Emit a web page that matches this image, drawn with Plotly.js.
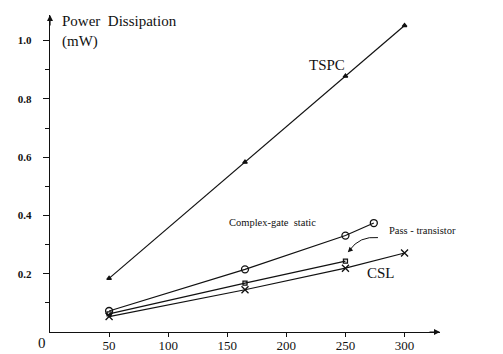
<!DOCTYPE html>
<html>
<head>
<meta charset="utf-8">
<script src="https://cdn.plot.ly/plotly-3.0.1.min.js"></script>
<style>html,body{margin:0;padding:0;background:#fff;}#chart{width:503px;height:354px;}</style>
</head>
<body>
<div id="chart"></div>
<script>
// Data
var freqTSPC = [50, 165, 250, 300];
var powerTSPC = [0.184, 0.583, 0.878, 1.052];
var freqComplex = [50, 165, 250, 274];
var powerComplex = [0.072, 0.215, 0.331, 0.374];
var freqPass = [50, 165, 250];
var powerPass = [0.062, 0.168, 0.243];
var freqCSL = [50, 165, 250, 300];
var powerCSL = [0.053, 0.145, 0.219, 0.271];
var xTickVals = [50, 100, 150, 200, 250, 300];
var yTickVals = [0.2, 0.4, 0.6, 0.8, 1.0];

var serif = 'Liberation Serif, Times New Roman, serif';
function line(x, y, sym, size, name) {
  return {
    x: x, y: y, mode: 'lines+markers', type: 'scatter', name: name,
    cliponaxis: false,
    line: {color: '#111', width: 1.2},
    marker: {symbol: sym, size: size, color: '#111', line: {color: '#111', width: 1.3}}
  };
}
var data = [
  line(freqTSPC, powerTSPC, 'triangle-up', 4, 'TSPC'),
  line(freqComplex, powerComplex, 'circle-open', 7, 'Complex-gate static'),
  line(freqPass, powerPass, 'square-open', 4, 'Pass - transistor'),
  line(freqCSL, powerCSL, 'x-thin-open', 7, 'CSL')
];

var layout = {
  width: 503, height: 354,
  margin: {l: 50, r: 63, t: 15, b: 22, pad: 0},
  paper_bgcolor: '#fff', plot_bgcolor: '#fff',
  showlegend: false,
  font: {family: serif, color: '#111'},
  xaxis: {
    range: [0, 330], showgrid: false, zeroline: false,
    showline: true, linecolor: '#111', linewidth: 1.3,
    ticks: 'outside', ticklen: 4, tickcolor: '#111', tickwidth: 1,
    tickvals: xTickVals, ticktext: xTickVals.map(String),
    tickfont: {family: serif, size: 13, color: '#111'},
    ticklabelstandoff: -3
  },
  yaxis: {
    range: [0, 1.088], showgrid: false, zeroline: false,
    showline: true, linecolor: '#111', linewidth: 1.3,
    ticks: 'outside', ticklen: 6, tickcolor: '#111', tickwidth: 1,
    tickvals: yTickVals, ticktext: yTickVals.map(function(v){return v.toFixed(1);}),
    tickfont: {family: serif, size: 11, color: '#111', weight: 'bold'},
    ticklabelstandoff: 9,
    minor: {tickvals: [0.1, 0.3, 0.5, 0.7, 0.9], ticks: 'outside', ticklen: 4, tickcolor: '#111', tickwidth: 1}
  },
  shapes: [
    {type: 'path', xref: 'x', yref: 'y',
     path: 'M 277.5 0.324 Q 262 0.33 253.5 0.281',
     line: {color: '#111', width: 1}}
  ],
  annotations: [
    {x: 330, y: 0, xref: 'x', yref: 'y', ax: -12, ay: 0, text: '', showarrow: true,
     arrowhead: 2, arrowsize: 1, arrowwidth: 1.2, arrowcolor: '#111', standoff: 0},
    {x: 0, y: 1.088, xref: 'x', yref: 'y', ax: 0, ay: 12, text: '', showarrow: true,
     arrowhead: 2, arrowsize: 1, arrowwidth: 1.2, arrowcolor: '#111', standoff: 0},
    {x: 252, y: 0.274, xref: 'x', yref: 'y', ax: 5, ay: -5, text: '', showarrow: true,
     arrowhead: 2, arrowsize: 1, arrowwidth: 1, arrowcolor: '#111', standoff: 0},
    {x: 8.5, y: 1.069, xref: 'x', yref: 'y', xanchor: 'left', yanchor: 'middle', showarrow: false,
     text: 'Power  Dissipation', font: {family: serif, size: 15, color: '#111'}},
    {x: 8.5, y: 0.997, xref: 'x', yref: 'y', xanchor: 'left', yanchor: 'middle', showarrow: false,
     text: '(mW)', font: {family: serif, size: 15, color: '#111'}},
    {x: 336, y: 0.008, xref: 'x', yref: 'y', xanchor: 'left', yanchor: 'middle', showarrow: false,
     text: 'f(MHz)', font: {family: serif, size: 16, color: '#111'}},
    {x: -0.02, y: -0.035, xref: 'paper', yref: 'paper', xanchor: 'center', yanchor: 'middle', showarrow: false,
     text: '0', font: {family: serif, size: 15, color: '#111'}},
    {x: 234.4, y: 0.918, xref: 'x', yref: 'y', xanchor: 'center', yanchor: 'middle', showarrow: false,
     text: 'TSPC', font: {family: serif, size: 15, color: '#111'}},
    {x: 188.3, y: 0.376, xref: 'x', yref: 'y', xanchor: 'center', yanchor: 'middle', showarrow: false,
     text: 'Complex-gate  static', font: {family: serif, size: 10.5, color: '#111'}},
    {x: 285, y: 0.348, xref: 'x', yref: 'y', xanchor: 'left', yanchor: 'middle', showarrow: false,
     text: 'Pass - transistor', font: {family: serif, size: 10.5, color: '#111'}},
    {x: 280, y: 0.204, xref: 'x', yref: 'y', xanchor: 'center', yanchor: 'middle', showarrow: false,
     text: 'CSL', font: {family: serif, size: 15, color: '#111'}}
  ]
};
Plotly.newPlot('chart', data, layout, {displayModeBar: false, staticPlot: true});
</script>
</body>
</html>
